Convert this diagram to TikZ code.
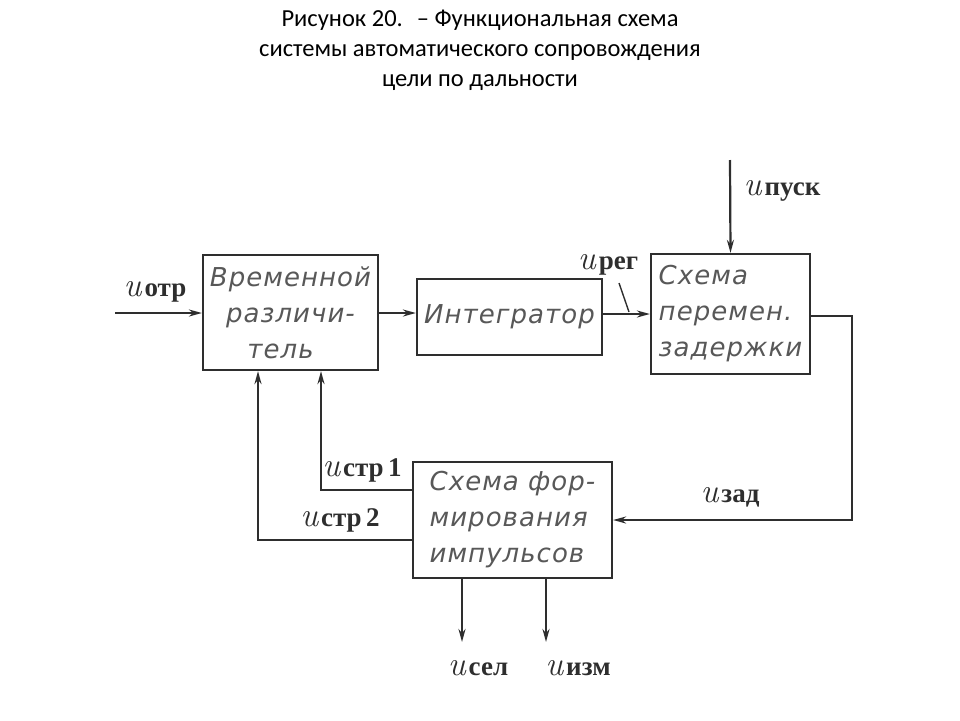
\documentclass[tikz,border=0pt]{standalone}
\usepackage{fontspec}
\setmainfont{Liberation Serif}
\newfontfamily\titlefont{Carlito}
\newfontfamily\ufont{Latin Modern Roman}
\newfontfamily\boxfont{DejaVu Sans}[LetterSpace=4]
\usetikzlibrary{arrows.meta,calc}
\definecolor{ink}{HTML}{2E2E2E}
\tikzset{
  blk/.style={draw=ink,line width=2.2pt,inner sep=0pt,font=\boxfont\itshape\fontsize{26}{36}\selectfont,text=ink!80},
  arr/.style={draw=ink,line width=2.2pt,-{Stealth[length=13pt,width=7pt]}},
  ln/.style={draw=ink,line width=2.2pt},
  sig/.style={inner sep=0pt,text=ink},
}
\newcommand{\sigl}[2]{{\ufont\itshape\fontsize{34}{34}\selectfont #1}\kern3pt{\fontsize{27}{27}\selectfont\bfseries #2}}
\begin{document}
\begin{tikzpicture}[x=1pt,y=-1pt]
\useasboundingbox (0,0) rectangle (960,720);
% title
\node[font=\titlefont\fontsize{24.5}{30}\selectfont,align=center,text=black] (title) at (480,50)
  {Рисунок 20.\hspace{14pt}– Функциональная схема\\системы автоматического сопровождения\\цели по дальности};
% blocks
\node[blk,minimum width=175pt,minimum height=115pt,align=center] (b1) at (290.5,312.5)
  {Временной\\различи-\\\hspace*{-20pt}тель};
\node[blk,minimum width=185pt,minimum height=76pt] (b2) at (509.5,317) {Интегратор};
\node[blk,minimum width=159pt,minimum height=120pt,align=left] (b3) at (730.5,314)
  {Схема\\перемен.\\задержки};
\node[blk,minimum width=199pt,minimum height=116pt,align=left] (b4) at (512.5,520)
  {Схема фор-\\мирования\\импульсов};
% coordinates
\coordinate (in) at (115,313);
\coordinate (pusk) at (730,160);
\coordinate (sel) at (462,642);
\coordinate (izm) at (546,642);
% connectors
\draw[arr] (in) -- (in -| b1.west);
\draw[arr] (b1.east |- in) -- (in -| b2.west);
\draw[arr] (b2.east |- 0,314) -- (b3.west |- 0,314);
\draw[arr] (pusk) -- (b3.north);
\draw[arr] (b3.east |- 0,316) -- (852,316) |- (b4.east);
\draw[arr] (b4.west |- 0,490) -| (b1.south -| 321,0);
\draw[arr] (b4.west |- 0,540) -| (b1.south -| 258,0);
\draw[arr] (b4.south -| sel) -- (sel);
\draw[arr] (b4.south -| izm) -- (izm);
% labels
\node[sig] (lotr) at (155,292) {\sigl{u}{отр}};
\node[sig] (lreg) at (608,265) {\sigl{u}{рег}};
\draw[ln,line width=1.4pt] (619,283) -- (629,312);
\node[sig] (lpusk) at (782,191) {\sigl{u}{пуск}};
\node[sig] (lstr1) at (362,470) {\sigl{u}{стр\,1}};
\node[sig] (lstr2) at (340,520) {\sigl{u}{стр\,2}};
\node[sig] (lzad) at (730,497) {\sigl{u}{зад}};
\node[sig] (lsel) at (478,668) {\sigl{u}{сел}};
\node[sig] (lizm) at (578,668) {\sigl{u}{изм}};
\end{tikzpicture}
\end{document}
